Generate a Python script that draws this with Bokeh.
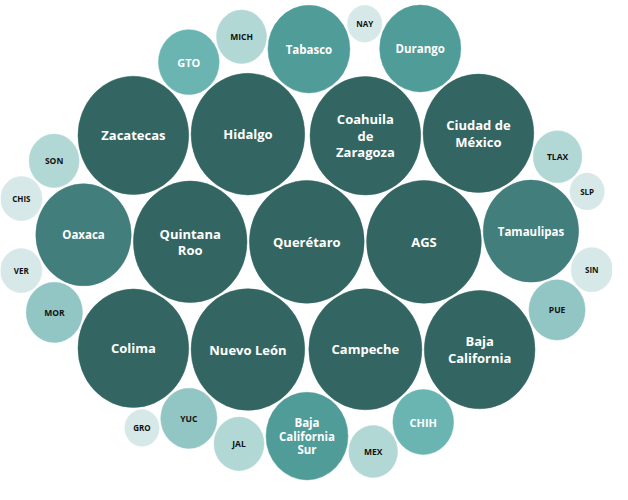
import math
from bokeh.plotting import figure
from bokeh.models import ColumnDataSource, Range1d
from bokeh.embed import file_html
from bokeh.resources import INLINE
from bokeh.core.properties import value

# ---------------- data ----------------
states = ["Querétaro", "Campeche", "Quintana Roo", "Hidalgo", "AGS", "Nuevo León",
          "Coahuila de Zaragoza", "Zacatecas", "Colima", "Ciudad de México",
          "Baja California", "Oaxaca", "Tamaulipas", "Durango", "Tabasco",
          "Baja California Sur", "CHIH", "GTO", "YUC", "PUE", "MOR", "JAL", "TLAX",
          "MICH", "MEX", "SON", "SIN", "VER", "CHIS", "NAY", "GRO", "SLP"]
values = [100, 97, 98, 98, 100, 98, 93, 93, 93, 93, 93, 69, 69, 50, 51, 51,
          28, 28, 24, 24, 24, 19, 18, 19, 18, 19, 13, 13, 13, 9, 9, 9]

# colour bins (lower bound of value -> colour)
bin_lower = [90, 60, 40, 25, 22, 15, 0]
bin_colors = ["#336662", "#427e7b", "#4f9c98", "#6ab5b1", "#91c6c4", "#b2d8d6", "#d6e9e8"]
bin_text_colors = ["white", "white", "white", "white", "#111111", "#111111", "#111111"]
bin_font_sizes = ["13px", "11.5px", "11.5px", "11px", "8.5px", "8.5px", "8px"]

# ---------------- layout (packed bubbles) ----------------
W, H = 612, 484
YS = 1.07           # vertical stretch of the bubbles
HU = H / YS         # canvas height in layout units
GAP = 2.5
RMAX = 60.0
vmax = max(values)
n = len(values)
radii = [RMAX * math.sqrt(v / vmax) for v in values]
order = sorted(range(n), key=lambda i: -values[i])


def pack(ax, ay):
    placed = {}
    for i in order:
        r = radii[i]
        if not placed:
            placed[i] = (0.0, 0.0)
            continue
        cands = []
        items = list(placed.items())
        for j, (xa, ya) in items:
            d = radii[j] + r + GAP
            for k in range(48):
                t = 2 * math.pi * k / 48
                cands.append((xa + d * math.cos(t), ya + d * math.sin(t)))
        for a in range(len(items)):
            ja, (xa, ya) = items[a]
            da = radii[ja] + r + GAP
            for b in range(a + 1, len(items)):
                jb, (xb, yb) = items[b]
                db = radii[jb] + r + GAP
                D = math.hypot(xb - xa, yb - ya)
                if D == 0 or D > da + db or D < abs(da - db):
                    continue
                aa = (da * da - db * db + D * D) / (2 * D)
                h = math.sqrt(max(da * da - aa * aa, 0.0))
                mx = xa + aa * (xb - xa) / D
                my = ya + aa * (yb - ya) / D
                ox, oy = -(yb - ya) / D * h, (xb - xa) / D * h
                cands.append((mx + ox, my + oy))
                cands.append((mx - ox, my - oy))
        cands.sort(key=lambda c: (c[0] / ax) ** 2 + (c[1] / ay) ** 2)
        for (cx, cy) in cands:
            ok = True
            for j, (xj, yj) in items:
                if math.hypot(cx - xj, cy - yj) < radii[j] + r + GAP - 1e-6:
                    ok = False
                    break
            if ok:
                placed[i] = (cx, cy)
                break
    xs = [placed[i][0] for i in range(n)]
    ys = [placed[i][1] for i in range(n)]
    x0 = min(x - r for x, r in zip(xs, radii)); x1 = max(x + r for x, r in zip(xs, radii))
    y0 = min(y - r for y, r in zip(ys, radii)); y1 = max(y + r for y, r in zip(ys, radii))
    s = min(1.0, W / (x1 - x0), HU / (y1 - y0))
    return s, xs, ys, (x0 + x1) / 2, (y0 + y1) / 2


# try several aspect weights and keep the packing that fills the canvas best
best = None
for f in [0.6, 0.7, 0.8, 0.9, 1.0, 1.1, 1.2, 1.3]:
    res = pack(W / 2.0, HU / 2.0 * f)
    if best is None or res[0] > best[0] + 1e-9:
        best = res
s, xs, ys, cxm, cym = best
px = [W / 2 + (x - cxm) * s for x in xs]
py = [HU / 2 - (y - cym) * s for y in ys]
pr = [r * s for r in radii]


def bin_of(v):
    for k, lo in enumerate(bin_lower):
        if v >= lo:
            return k
    return len(bin_lower) - 1


def wrap(label, maxc=10):
    words = label.split(" ")
    lines, cur = [], ""
    for w in words:
        t = (cur + " " + w).strip()
        if len(t) > maxc and cur:
            lines.append(cur)
            cur = w
        else:
            cur = t
    lines.append(cur)
    return "\n".join(lines)


bins = [bin_of(v) for v in values]
src = ColumnDataSource(dict(
    x=px, y=py, d=[2 * r for r in pr],
    color=[bin_colors[b] for b in bins],
    tcolor=[bin_text_colors[b] for b in bins],
    fsize=[bin_font_sizes[b] for b in bins],
    label=[wrap(sname) for sname in states],
    value=values,
))

p = figure(width=W, height=H, output_backend="svg", toolbar_location=None,
           x_range=Range1d(0, W), y_range=Range1d(0, HU), min_border=0)
p.axis.visible = False
p.grid.visible = False
p.outline_line_color = None
p.background_fill_color = "white"

p.ellipse(x="x", y="y", width="d", height="d", source=src,
          fill_color="color", line_color="color", line_width=0.5)
p.text(x="x", y="y", text="label", source=src, text_align="center",
       text_baseline="middle", text_color="tcolor", text_font_size="fsize",
       text_font=value("Open Sans"), text_font_style="bold", text_line_height=0.92)

open("out.html", "w").write(file_html(p, INLINE))
